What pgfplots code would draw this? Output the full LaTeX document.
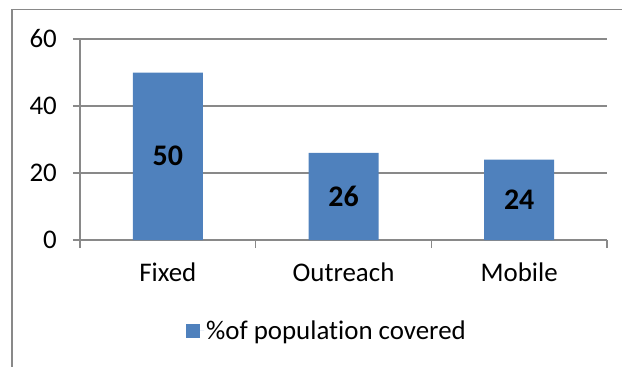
\documentclass[border=0pt]{standalone}
\usepackage{pgfplots}
\pgfplotsset{compat=1.18}
\usepackage{fontspec}
\setmainfont{Carlito}[Ligatures=NoCommon]
\definecolor{barblue}{HTML}{4F81BD}
\definecolor{gridgray}{HTML}{898989}
\begin{document}
\begin{tikzpicture}
\useasboundingbox (0,0) rectangle (622bp,-367bp);
\clip (0,0) rectangle (622bp,-367bp);
% chart area frame
\draw[gridgray, line width=1.4bp] (12bp,-400bp) -- (12bp,-9.3bp) -- (700bp,-9.3bp);
\begin{axis}[
  at={(80bp,-240bp)}, anchor=south west,
  scale only axis, width=527bp, height=201bp,
  xmin=-0.5, xmax=2.5, ymin=0, ymax=60,
  axis lines*=left, axis line style={-, gridgray, line width=1.4bp},
  ybar, bar width=70bp,
  ytick={0,20,40,60}, ymajorgrids,
  major grid style={gridgray, line width=1.4bp},
  xtick={0,1,2}, xticklabels={Fixed,Outreach,Mobile},
  minor xtick={-0.5,0.5,1.5,2.5},
  tick align=outside,
  major tick length=7bp, minor tick length=8bp,
  major x tick style={draw=none},
  tick style={gridgray, line width=1.4bp},
  /pgf/number format/assume math mode=true,
  ticklabel style={font=\fontsize{27}{32}\selectfont, inner sep=0pt},
  yticklabel style={xshift=-16bp},
  xticklabel style={yshift=-16bp},
  legend style={draw=none, fill=none, inner sep=0pt, at={(0.201,-0.4527)}, anchor=west,
    font=\fontsize{27}{32}\selectfont},
  legend image code/.code={\fill[barblue] (0bp,-7bp) rectangle (14bp,7bp);
    \path (0bp,0bp) -- (18bp,0bp);},
]
\addplot[fill=barblue, draw=none,
  nodes near coords,
  visualization depends on=y \as \rawy,
  nodes near coords style={font=\fontsize{30}{32}\bfseries\selectfont, text=black, anchor=center,
    shift={(axis direction cs:0,-\rawy/2)}}]
  coordinates {(0,50) (1,26) (2,24)};
\addlegendentry{\%of population covered}
\end{axis}
\end{tikzpicture}
\end{document}
